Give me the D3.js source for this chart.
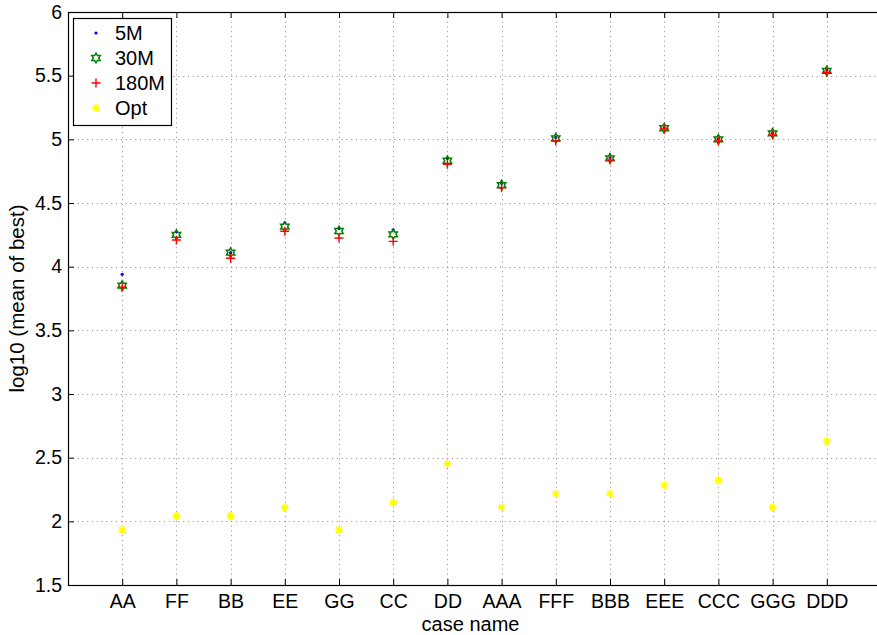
<!DOCTYPE html>
<html>
<head>
<meta charset="utf-8">
<script src="https://cdn.jsdelivr.net/npm/d3@7"></script>
<style>
  html, body { margin: 0; padding: 0; background: #fff; }
  svg { display: block; font-family: "Liberation Sans", Arial, Helvetica, sans-serif; }
</style>
</head>
<body>
<svg id="chart" width="877" height="635"></svg>
<script>
// Case names along the x axis
const cases = ["AA","FF","BB","EE","GG","CC","DD","AAA","FFF","BBB","EEE","CCC","GGG","DDD"];
// log10 of the mean best value for each run length
const run5M   = [3.940, 4.275, 4.110, 4.345, 4.300, 4.290, 4.850, 4.655, 5.015, 4.855, 5.090, 5.005, 5.050, 5.545];
const run30M  = [3.851, 4.250, 4.110, 4.314, 4.280, 4.254, 4.832, 4.641, 5.008, 4.851, 5.087, 5.000, 5.047, 5.537];
const run180M = [3.838, 4.210, 4.066, 4.278, 4.225, 4.199, 4.804, 4.620, 4.987, 4.838, 5.081, 4.987, 5.034, 5.527];
const optimum = [1.932, 2.042, 2.042, 2.107, 1.932, 2.146, 2.453, 2.110, 2.217, 2.217, 2.283, 2.322, 2.110, 2.629];
// y tick values
const yTicks = [1.5, 2, 2.5, 3, 3.5, 4, 4.5, 5, 5.5, 6];
const seriesNames = ["5M", "30M", "180M", "Opt"];

const svg = d3.select("#chart");
const plotL = 68, plotR = 881, plotT = 12, plotB = 585;
const tickFont = "19.5px";

const x = d3.scaleLinear().domain([0, cases.length + 1]).range([plotL, plotR]);
const y = d3.scaleLinear().domain([1.5, 6]).range([plotB, plotT]);
const xIdx = d3.range(1, cases.length + 1);

// dotted grid
const grid = svg.append("g").attr("stroke", "#8c8c8c").attr("stroke-width", 1)
  .attr("stroke-dasharray", "1,3.8").attr("fill", "none");
grid.selectAll("line.gy").data(yTicks.slice(1, -1)).join("line")
  .attr("x1", plotL).attr("x2", plotR)
  .attr("y1", d => Math.round(y(d)) + 0.5).attr("y2", d => Math.round(y(d)) + 0.5);
grid.selectAll("line.gx").data(xIdx).join("line")
  .attr("x1", d => Math.round(x(d)) + 0.5).attr("x2", d => Math.round(x(d)) + 0.5)
  .attr("y1", plotT).attr("y2", plotB);

// axes
const yAxis = d3.axisLeft(y).tickValues(yTicks).tickFormat(d => String(d)).tickSizeInner(-6).tickSizeOuter(0).tickPadding(6);
const xAxis = d3.axisBottom(x).tickValues(xIdx).tickFormat(d => cases[d - 1]).tickSizeInner(-6).tickSizeOuter(0).tickPadding(9);
const xTop = d3.axisTop(x).tickValues(xIdx).tickFormat("").tickSizeInner(-6).tickSizeOuter(0);

const gy = svg.append("g").attr("transform", `translate(${plotL},0)`).call(yAxis);
const gx = svg.append("g").attr("transform", `translate(0,${plotB})`).call(xAxis);
const gt = svg.append("g").attr("transform", `translate(0,${plotT})`).call(xTop);
[gy, gx, gt].forEach(g => {
  g.select(".domain").remove();
  g.selectAll("line").attr("stroke", "#000");
  g.selectAll("text").attr("fill", "#000").style("font-size", tickFont);
});

// axes box
svg.append("rect").attr("x", plotL + 0.5).attr("y", plotT + 0.5)
  .attr("width", plotR - plotL).attr("height", plotB - plotT)
  .attr("fill", "none").attr("stroke", "#000").attr("stroke-width", 1.2);

// marker shapes
function hexagram(r) {
  const ri = r / Math.sqrt(3);
  const pts = d3.range(12).map(k => {
    const a = (-90 + k * 30) * Math.PI / 180;
    const rr = k % 2 === 0 ? r : ri;
    return [rr * Math.cos(a), rr * Math.sin(a)];
  });
  return "M" + pts.map(p => p.join(",")).join("L") + "Z";
}
function plus(r) { return `M${-r},0H${r}M0,${-r}V${r}`; }
function asterisk(r) {
  const d = r * Math.SQRT1_2;
  return `M${-r},0H${r}M0,${-r}V${r}M${-d},${-d}L${d},${d}M${-d},${d}L${d},${-d}`;
}

const markers = [
  { name: seriesNames[0], data: run5M, draw: g => g.append("circle").attr("r", 1.6).attr("fill", "#0000ff") },
  { name: seriesNames[1], data: run30M, draw: g => g.append("path").attr("d", hexagram(4.8)).attr("fill", "none").attr("stroke", "#008000").attr("stroke-width", 1.5) },
  { name: seriesNames[2], data: run180M, draw: g => g.append("path").attr("d", plus(4.5)).attr("fill", "none").attr("stroke", "#ff0000").attr("stroke-width", 1.4) },
  { name: seriesNames[3], data: optimum, draw: g => g.append("path").attr("d", asterisk(4)).attr("fill", "none").attr("stroke", "#ffff00").attr("stroke-width", 1.6) }
];

markers.forEach(m => {
  const g = svg.append("g");
  m.data.forEach((v, i) => {
    const p = g.append("g").attr("transform", `translate(${x(i + 1)},${y(v)})`);
    m.draw(p);
  });
});

// legend
const leg = svg.append("g");
leg.append("rect").attr("x", 73.5).attr("y", 18.5).attr("width", 98).attr("height", 107)
  .attr("fill", "#fff").attr("stroke", "#000").attr("stroke-width", 1.2);
markers.forEach((m, i) => {
  const cy = 33 + i * 25;
  const p = leg.append("g").attr("transform", `translate(96,${cy})`);
  m.draw(p);
  leg.append("text").attr("x", 115).attr("y", cy + 7).style("font-size", "20px").text(m.name);
});

// axis titles
svg.append("text").attr("x", (plotL + plotR) / 2 - 4).attr("y", 631)
  .attr("text-anchor", "middle").style("font-size", "20px").text("case name");
svg.append("text").attr("transform", `translate(24,${(plotT + plotB) / 2}) rotate(-90)`)
  .attr("text-anchor", "middle").style("font-size", "20.5px").text("log10 (mean of best)");
</script>
</body>
</html>
